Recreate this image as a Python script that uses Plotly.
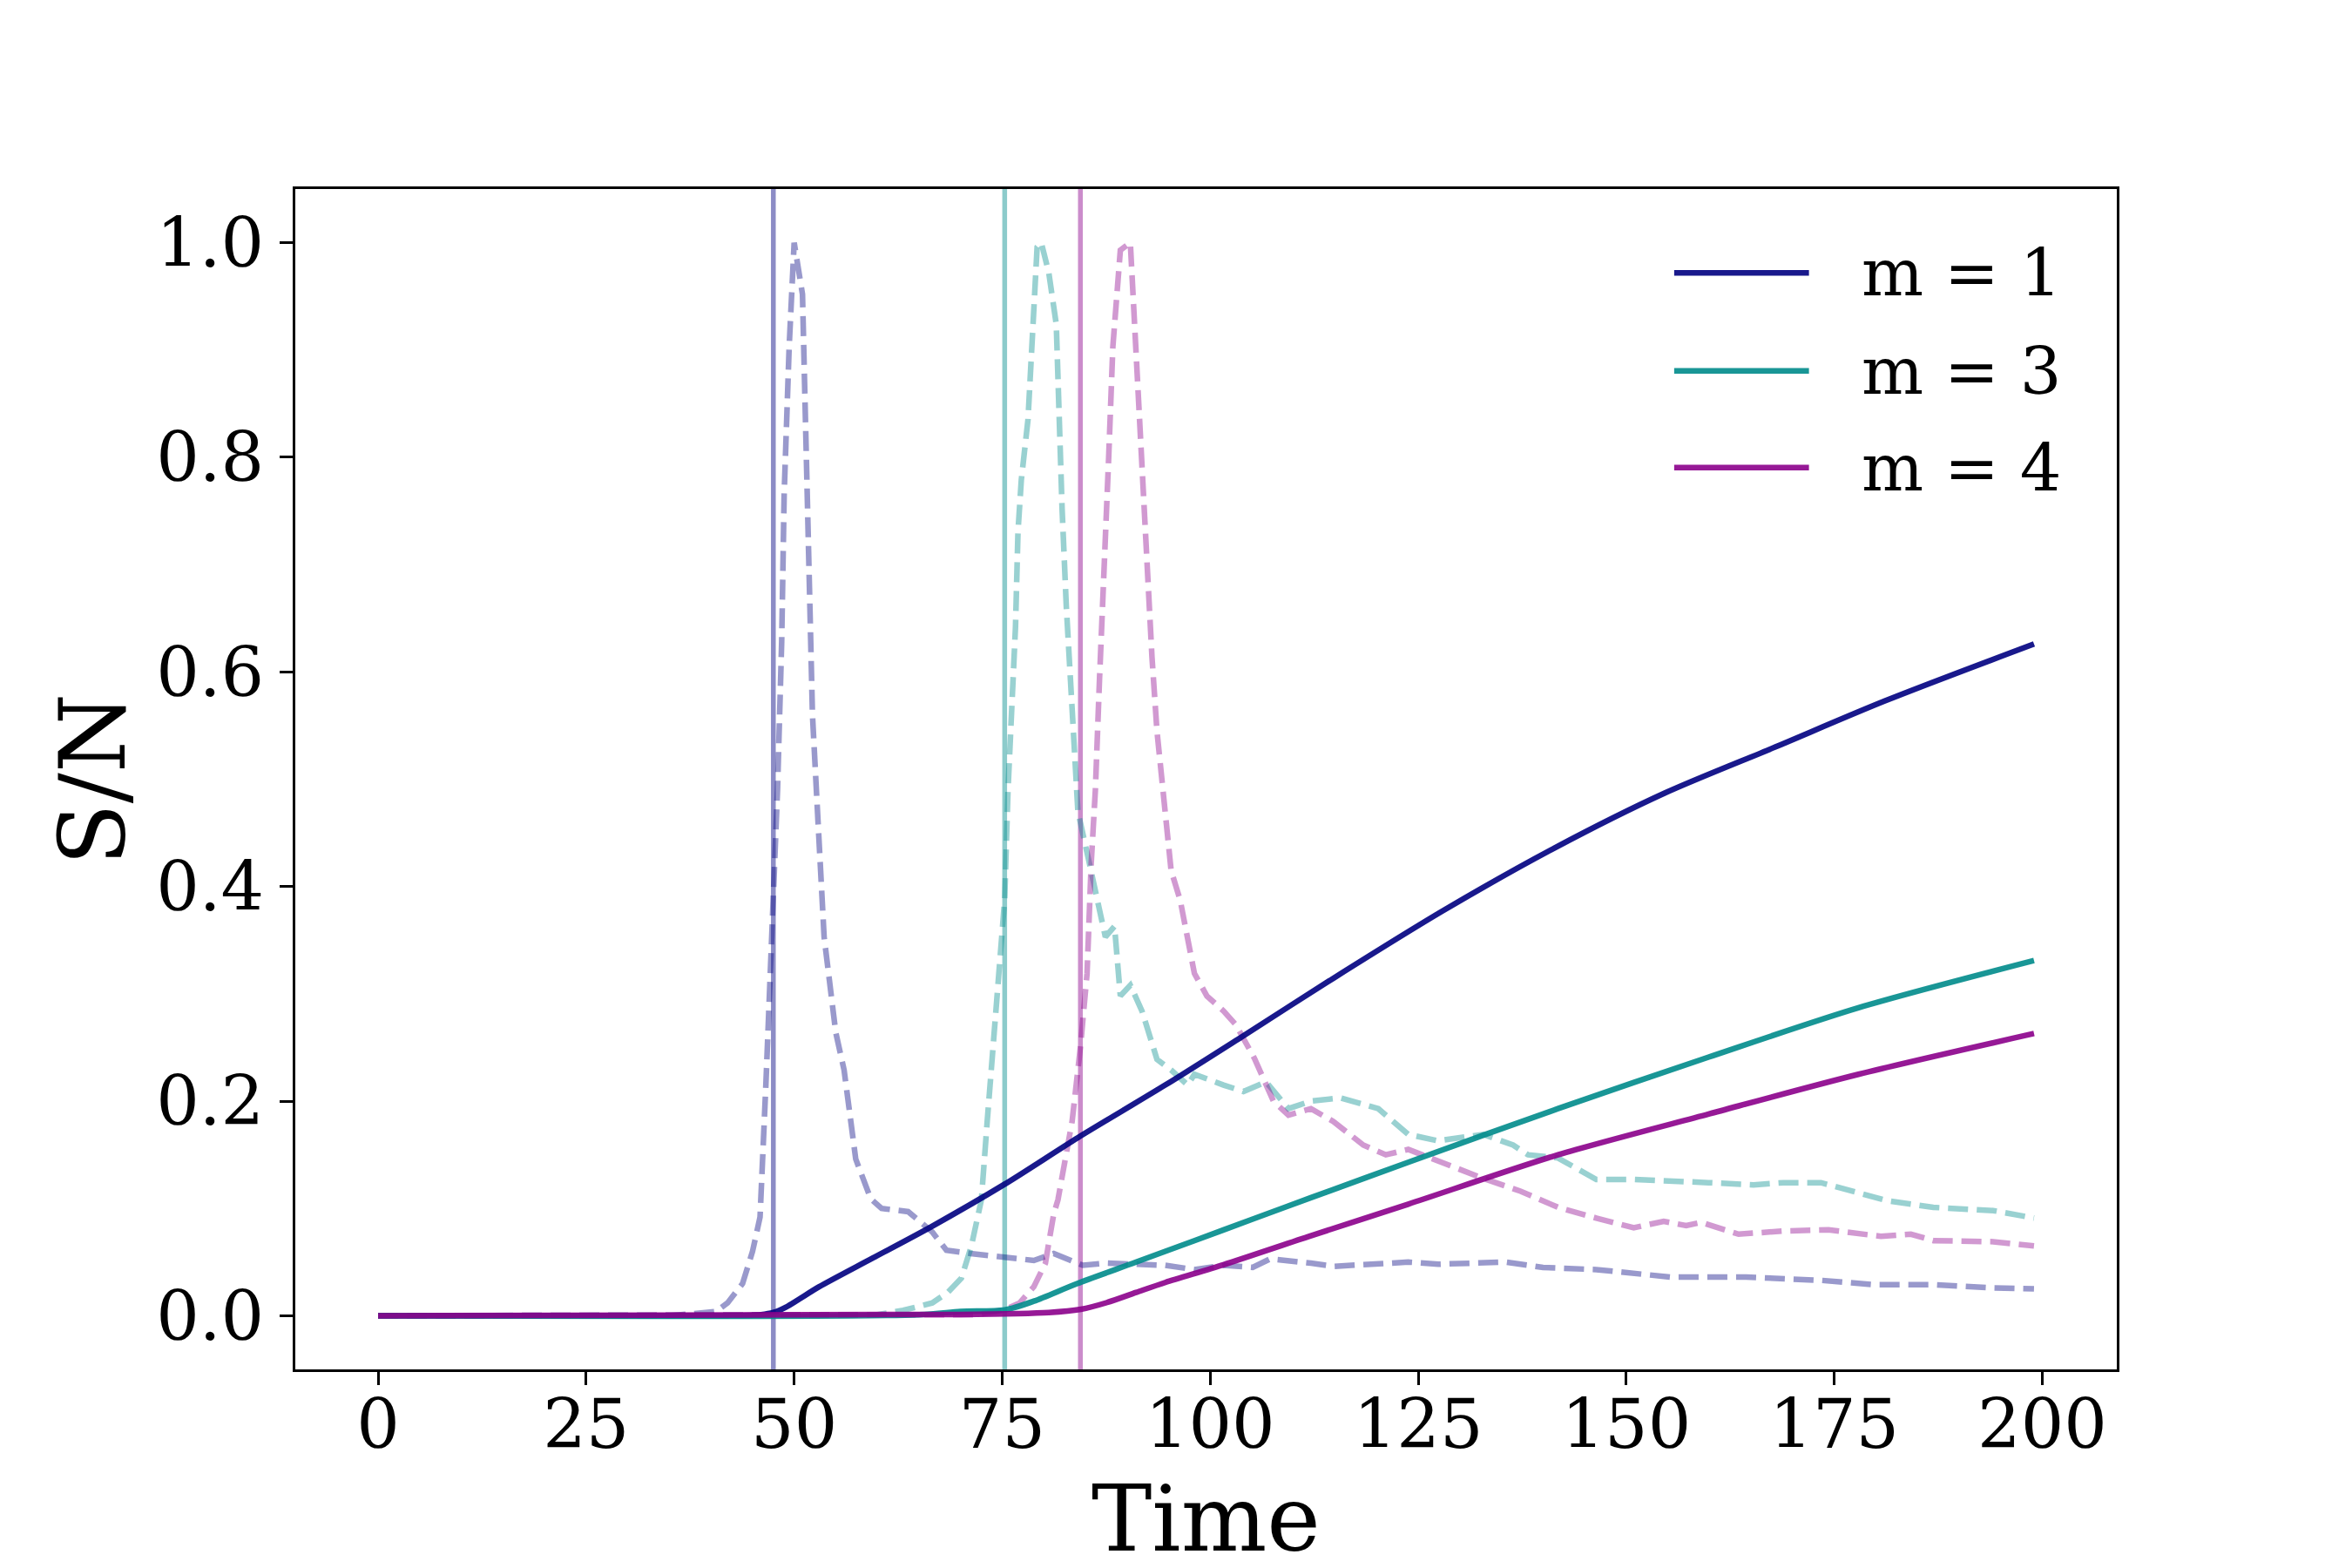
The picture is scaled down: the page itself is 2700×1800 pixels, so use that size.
import plotly.graph_objects as go

# S/N curves (time in arbitrary units)
labels = ["m = 1", "m = 3", "m = 4"]
base_rgb = ["0,0,128", "0,139,139", "139,0,139"]  # navy, darkcyan, darkmagenta
peak_times = [47.5, 75.3, 84.4]

# cumulative S/N (solid)
t1_solid = [0, 42, 46, 47.5, 49, 50.5, 53, 59.5, 66.6, 75.3, 84.1, 94.6, 103.8,
            114.9, 128.1, 141.4, 154.6, 167.9, 181.1, 199]
sn1_solid = [0, 0, 0.001, 0.003, 0.008, 0.015, 0.027, 0.054, 0.0835, 0.1226, 0.166,
             0.215, 0.260, 0.315, 0.378, 0.436, 0.487, 0.530, 0.573, 0.626]

t3_solid = [0, 65, 70, 75.3, 78.8, 84.0, 91.1, 98.1, 105.1, 112.1, 123.8, 141.8,
            159.9, 177.9, 199]
sn3_solid = [0, 0.001, 0.004, 0.0055, 0.0136, 0.030, 0.050, 0.070, 0.090, 0.110,
             0.143, 0.193, 0.241, 0.287, 0.331]

t4_solid = [0, 70, 80.6, 84.45, 87.6, 91.1, 94.6, 101.6, 112.1, 123.8, 141.8, 159.9,
            177.9, 199]
sn4_solid = [0, 0.0012, 0.003, 0.006, 0.0123, 0.0217, 0.031, 0.0475, 0.0745, 0.104,
             0.150, 0.188, 0.225, 0.263]

# normalised instantaneous S/N (dashed)
t1_dash = [0, 35, 38, 40.6, 42, 43.8, 45, 45.9, 46.6, 47.3, 48.0, 48.5, 48.8, 49.4,
           50.0, 51.0, 51.4, 51.8, 52.2, 52.9, 53.6, 55.0, 56.0, 57.4, 59.2, 60.5,
           62.0, 63.7, 66.6, 68.3, 71.2, 75.3, 78.8, 81.2, 84.7, 87.6, 94.6, 98.1,
           101.6, 105.1, 107.2, 112.1, 114.8, 123.8, 127.4, 135.5, 140, 146.4, 155.4,
           164.4, 173.4, 179.7, 186.9, 194.1, 199]
sn1_dash = [0, 0, 0.002, 0.004, 0.012, 0.03, 0.06, 0.092, 0.215, 0.353, 0.49, 0.628,
            0.766, 0.903, 1.0, 0.952, 0.835, 0.697, 0.56, 0.456, 0.353, 0.264, 0.229,
            0.146, 0.109, 0.10, 0.098, 0.097, 0.078, 0.061, 0.058, 0.054, 0.0515,
            0.058, 0.047, 0.049, 0.047, 0.043, 0.047, 0.045, 0.053, 0.049, 0.046,
            0.050, 0.048, 0.050, 0.045, 0.043, 0.036, 0.036, 0.033, 0.029, 0.029,
            0.026, 0.025]

t3_dash = [0, 55, 60, 63.1, 66.6, 68.5, 70.1, 71.3, 72.5, 73.2, 73.9, 74.6, 75.3,
           75.7, 76.2, 76.6, 76.9, 77.3, 78.1, 78.7, 79.2, 79.7, 80.6, 81.5, 81.8,
           82.2, 82.7, 83.2, 83.7, 84.1, 85.5, 86.6, 87.4, 88.5, 89.2, 90.4, 91.8,
           93.6, 95.3, 97.3, 98.1, 101.6, 104, 106.7, 109.4, 112.1, 115.7, 120.2,
           123.8, 127.4, 132.8, 136.4, 138.2, 141.8, 146.4, 150.9, 155.4, 159.9,
           165.3, 168.9, 173.4, 177.9, 181.5, 186.9, 194.1, 199]
sn3_dash = [0, 0, 0.001, 0.005, 0.012, 0.022, 0.035, 0.065, 0.108, 0.181, 0.25,
            0.312, 0.388, 0.49, 0.573, 0.642, 0.731, 0.779, 0.835, 0.917, 0.996, 1.0,
            0.972, 0.924, 0.835, 0.752, 0.662, 0.587, 0.518, 0.47, 0.421, 0.38,
            0.353, 0.363, 0.298, 0.308, 0.284, 0.239, 0.229, 0.215, 0.225, 0.215,
            0.209, 0.218, 0.193, 0.2, 0.203, 0.193, 0.169, 0.163, 0.169, 0.159,
            0.150, 0.147, 0.127, 0.127, 0.125, 0.124, 0.122, 0.124, 0.124, 0.115,
            0.107, 0.101, 0.098, 0.091]

t4_dash = [0, 65, 72, 75.3, 77.1, 78.8, 80.2, 80.6, 81.2, 81.7, 82.5, 83.4, 84.4,
           85.2, 85.7, 86.2, 86.7, 87.3, 87.8, 88.3, 89.2, 90.4, 90.9, 91.5, 92.0,
           92.5, 93.0, 93.6, 94.3, 95.3, 96.4, 98.1, 99.6, 101.6, 103.1, 105.3,
           107.6, 109.4, 112.1, 114.8, 118.4, 121.1, 123.8, 128.3, 132.8, 137.3,
           141.8, 146.4, 150.9, 154.5, 157.2, 159, 163.5, 168.9, 174.3, 180.6,
           184.2, 186.9, 194.1, 199]
sn4_dash = [0, 0, 0.001, 0.0055, 0.012, 0.027, 0.049, 0.068, 0.095, 0.108, 0.14,
            0.181, 0.25, 0.319, 0.422, 0.49, 0.594, 0.697, 0.8, 0.903, 0.993, 1.0,
            0.924, 0.835, 0.766, 0.697, 0.614, 0.545, 0.49, 0.415, 0.387, 0.319,
            0.298, 0.284, 0.271, 0.24, 0.2, 0.187, 0.193, 0.181, 0.159, 0.15, 0.155,
            0.141, 0.128, 0.116, 0.101, 0.091, 0.082, 0.088, 0.084, 0.087, 0.076,
            0.079, 0.080, 0.074, 0.076, 0.070, 0.069, 0.065]

x_ticks = [0, 25, 50, 75, 100, 125, 150, 175, 200]
y_ticks = [0.0, 0.2, 0.4, 0.6, 0.8, 1.0]

FONT = "DejaVu Serif"
solids = [(t1_solid, sn1_solid), (t3_solid, sn3_solid), (t4_solid, sn4_solid)]
dashes = [(t1_dash, sn1_dash), (t3_dash, sn3_dash), (t4_dash, sn4_dash)]

fig = go.Figure()

for (t, sn), rgb in zip(dashes, base_rgb):
    fig.add_trace(go.Scatter(x=t, y=sn, mode="lines", showlegend=False,
                             line=dict(color=f"rgba({rgb},0.4)", width=6.5, dash="23px,10px")))

for (t, sn), rgb, lab in zip(solids, base_rgb, labels):
    fig.add_trace(go.Scatter(x=t, y=sn, mode="lines", name=lab, showlegend=False,
                             line=dict(color=f"rgba({rgb},0.9)", width=6.5,
                                       shape="spline", smoothing=0.8)))

for tp, rgb in zip(peak_times, base_rgb):
    fig.add_vline(x=tp, line=dict(color=f"rgba({rgb},0.45)", width=5.5), layer="below")

# hand-drawn legend, matplotlib style (upper right, no frame)
legend_rows = [0.929, 0.846, 0.764]
for lab, rgb, yr in zip(labels, base_rgb, legend_rows):
    fig.add_shape(type="line", xref="paper", yref="paper", x0=0.757, x1=0.831,
                  y0=yr, y1=yr, line=dict(color=f"rgba({rgb},0.9)", width=6.5))
    fig.add_annotation(text=lab, xref="paper", yref="paper", x=0.859, y=yr,
                       xanchor="left", yanchor="middle", showarrow=False,
                       font=dict(family=FONT, size=75, color="black"))

# axis labels
fig.add_annotation(text="Time", xref="paper", yref="paper", x=0.5, y=-0.127,
                   xanchor="center", yanchor="middle", showarrow=False,
                   font=dict(family=FONT, size=104, color="black"))
fig.add_annotation(text="S/N", xref="paper", yref="paper", x=-0.111, y=0.5,
                   xanchor="center", yanchor="middle", showarrow=False, textangle=-90,
                   font=dict(family=FONT, size=104, color="black"))

axis_style = dict(showline=True, mirror=True, linecolor="black", linewidth=3.3,
                  ticks="outside", ticklen=15, tickwidth=3.3, tickcolor="black",
                  showgrid=False, zeroline=False,
                  tickfont=dict(family=FONT, size=78, color="black"))

# the page body adds an 8px offset, so the margins are trimmed to compensate
fig.update_layout(
    width=2700, height=1800,
    margin=dict(l=331, r=278, t=209, b=236),
    paper_bgcolor="white", plot_bgcolor="white",
    xaxis=dict(range=[-9.95, 208.95], tickvals=x_ticks, ticklabelstandoff=-22, **axis_style),
    yaxis=dict(range=[-0.05, 1.05], tickvals=y_ticks, tickformat=".1f",
               ticklabelstandoff=2, **axis_style),
    showlegend=False,
)

fig.write_html("out.html")
